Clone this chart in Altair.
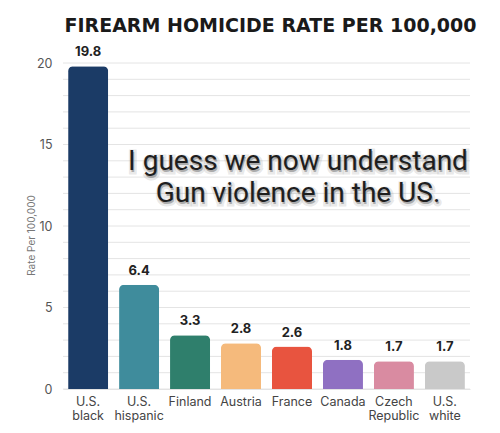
import altair as alt
import pandas as pd

categories = ["U.S.|black", "U.S.|hispanic", "Finland", "Austria", "France",
              "Canada", "Czech|Republic", "U.S.|white"]
rates = [19.8, 6.4, 3.3, 2.8, 2.6, 1.8, 1.7, 1.7]
bar_colors = ["#1b3b66", "#3f8c9c", "#2f7f6c", "#f5ba7c", "#e8543f",
              "#8f70c2", "#d98ba1", "#c9c9c9"]
value_labels = ["19.8", "6.4", "3.3", "2.8", "2.6", "1.8", "1.7", "1.7"]
y_label_values = [0, 5, 10, 15, 20]
y_grid_values = list(range(0, 21))
title_text = "FIREARM HOMICIDE RATE PER 100,000"
y_title = "Rate Per 100,000"
overlay_lines = ["I guess we now understand", "Gun violence in the US."]

df = pd.DataFrame({"cat": categories, "rate": rates, "color": bar_colors,
                   "label": value_labels})
grid_df = pd.DataFrame({"g": y_grid_values})

FONT = "Inter"
y_scale = alt.Scale(domain=[0, 20], nice=False)
y_axis = alt.Axis(values=y_label_values, labelOverlap=False,
                  title=y_title, titleFont=FONT, titleFontSize=10,
                  titleFontWeight="normal", titleColor="#777",
                  titleX=-32, titleY=172, titleAngle=-90,
                  titleAlign="center", titleBaseline="middle",
                  grid=False, domain=False, ticks=False,
                  labelPadding=11, labelFont=FONT, labelFontSize=12.5,
                  labelColor="#555")

x_enc = alt.X(
    "cat:N", sort=categories,
    scale=alt.Scale(paddingInner=0.214, paddingOuter=0.1),
    axis=alt.Axis(title=None, labelAngle=0, labelExpr="split(datum.label, '|')",
                  ticks=False, domainColor="#e3e3e3", labelFont=FONT,
                  labelFontSize=12.5, labelColor="#444", labelPadding=6,
                  labelLineHeight=14, labelBaseline="top"),
)

grid = alt.Chart(grid_df).mark_rule(color="#e4e4e4", strokeWidth=1).encode(
    y=alt.Y("g:Q", scale=y_scale, axis=y_axis, title=y_title)
)

base = alt.Chart(df)

bars = base.mark_bar(cornerRadiusTopLeft=5, cornerRadiusTopRight=5).encode(
    x=x_enc, y=alt.Y("rate:Q", scale=y_scale, axis=y_axis, title=y_title),
    color=alt.Color("color:N", scale=None)
)

vals = base.mark_text(dy=-7, baseline="bottom", font=FONT, fontWeight="bold",
                      fontSize=13, color="#222").encode(
    x=alt.X("cat:N", sort=categories),
    y=alt.Y("rate:Q", scale=y_scale, axis=y_axis, title=y_title),
    text="label:N"
)

def overlay_layer(line, ypix, shadow):
    d = alt.Chart(pd.DataFrame({"t": [line]}))
    if shadow:
        m = d.mark_text(font="Roboto", fontSize=28, align="center",
                        baseline="alphabetic", color="#666",
                        stroke="#777", strokeWidth=5, strokeOpacity=0.3,
                        opacity=0.55, dx=1, dy=2)
    else:
        m = d.mark_text(font="Roboto", fontSize=28, align="center",
                        baseline="alphabetic", color="#1e1e1e")
    return m.encode(x=alt.value(235), y=alt.value(ypix), text="t:N")

overlays = [overlay_layer(overlay_lines[0], 107, True),
            overlay_layer(overlay_lines[1], 139, True),
            overlay_layer(overlay_lines[0], 107, False),
            overlay_layer(overlay_lines[1], 139, False)]

chart = alt.layer(grid, bars, vals, *overlays).properties(
    width=407, height=326,
    autosize=alt.AutoSizeParams(type="none"),
    padding={"left": 55, "top": 55, "right": 22, "bottom": 36},
    title=alt.TitleParams(title_text, font="DejaVu Sans", fontSize=19,
                          fontWeight="bold", color="#1a1a1a", anchor="middle",
                          offset=10, dx=4),
    background="white",
).configure_view(stroke=None)

chart.save("out.html", embed_options={"renderer": "svg", "actions": False})
